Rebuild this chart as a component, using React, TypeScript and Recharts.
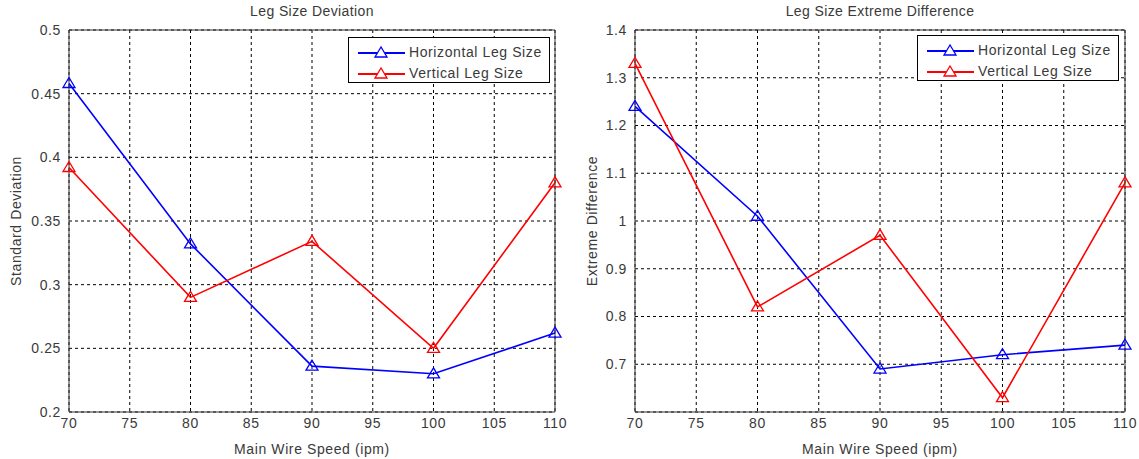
import { LineChart, Line, XAxis, YAxis, CartesianGrid, Legend, ReferenceArea } from 'recharts'

const speeds = [70, 80, 90, 100, 110]
const xTicks = [70, 75, 80, 85, 90, 95, 100, 105, 110]

const devHorizontal = [0.458, 0.332, 0.236, 0.23, 0.262]
const devVertical = [0.392, 0.29, 0.334, 0.25, 0.38]
const devTicks = [0.2, 0.25, 0.3, 0.35, 0.4, 0.45, 0.5]

const extHorizontal = [1.24, 1.01, 0.69, 0.72, 0.74]
const extVertical = [1.33, 0.82, 0.97, 0.63, 1.08]
const extTicks = [0.7, 0.8, 0.9, 1.0, 1.1, 1.2, 1.3, 1.4]

const BLUE = '#0000FF'
const RED = '#FF0000'
const FONT = 'Arial, "Liberation Sans", sans-serif'
const TXT = '#3a3a3a'
const txt = { fill: TXT, fontSize: 14, fontFamily: FONT, letterSpacing: 0.6 }

const devData = speeds.map((s, i) => ({ speed: s, h: devHorizontal[i], v: devVertical[i] }))
const extData = speeds.map((s, i) => ({ speed: s, h: extHorizontal[i], v: extVertical[i] }))

const Tri = (color: string) => (p: any) => {
  const { cx, cy, index } = p
  if (cx == null || cy == null) return <g key={index} />
  return (
    <polygon key={index} points={`${cx},${cy - 6} ${cx - 6},${cy + 4} ${cx + 6},${cy + 4}`}
      fill="none" stroke={color} strokeWidth={1.3} />
  )
}

const LegendBox = ({ payload }: any) => (
  <div style={{ border: '1px solid #000', background: '#fff', padding: '3px 0 1px 0', fontFamily: FONT, fontSize: 14, letterSpacing: 0.6, color: TXT, boxSizing: 'border-box', height: 46 }}>
    {(payload || []).map((e: any) => (
      <div key={e.value} style={{ display: 'flex', alignItems: 'center', height: 21 }}>
        <svg width={50} height={14} style={{ marginLeft: 8 }}>
          <line x1={1} y1={8} x2={48} y2={8} stroke={e.color} strokeWidth={1.8} />
          <polygon points="24,2 18,12 30,12" fill="#fff" stroke={e.color} strokeWidth={1.3} />
        </svg>
        <span style={{ marginLeft: 2 }}>{e.value}</span>
      </div>
    ))}
  </div>
)

function Panel({ data, title, yLabel, yTicks, yDomain, left, width, leftSpace, rightSpace, yLabelOffset, legendLeft, legendTop }: any) {
  return (
    <div style={{ position: 'absolute', left, top: 0, width, height: 459 }}>
      <div style={{ position: 'absolute', top: 3, left: leftSpace, width: width - leftSpace - rightSpace, textAlign: 'center', fontFamily: FONT, fontSize: 14, letterSpacing: 0.4, color: TXT }}>
        {title}
      </div>
      <LineChart width={width} height={459} data={data} margin={{ top: 30, right: rightSpace, left: 0, bottom: 0 }}>
        <CartesianGrid stroke="#000" strokeDasharray="3 3" strokeWidth={1} />
        <XAxis dataKey="speed" type="number" domain={[70, 110]} ticks={xTicks} height={47}
          axisLine={false} tickLine={false} tickSize={4} tickMargin={2}
          tick={txt}
          label={{ value: 'Main Wire Speed (ipm)', position: 'insideBottom', offset: 5, ...txt }} />
        <YAxis type="number" domain={yDomain} ticks={yTicks} width={leftSpace} interval={0}
          axisLine={false} tickLine={false} tickSize={6} tickMargin={2} allowDataOverflow
          tick={txt}
          label={{ value: yLabel, angle: -90, position: 'insideLeft', offset: yLabelOffset, ...txt, style: { textAnchor: 'middle' } }} />
        <ReferenceArea x1={70} x2={110} y1={yDomain[0]} y2={yDomain[1]} fill="none" stroke="#333" strokeWidth={1} />
        <Legend layout="vertical" align="center" verticalAlign="middle" content={LegendBox as any}
          wrapperStyle={{ top: legendTop, left: legendLeft, width: 202 }} />
        <Line dataKey="h" name="Horizontal Leg Size" stroke={BLUE} strokeWidth={1.6} dot={Tri(BLUE)} isAnimationActive={false} />
        <Line dataKey="v" name="Vertical Leg Size" stroke={RED} strokeWidth={1.6} dot={Tri(RED)} isAnimationActive={false} />
      </LineChart>
    </div>
  )
}

export default function App() {
  return (
    <div style={{ position: 'fixed', left: 0, top: 0, width: 1139, height: 459, background: '#fff' }}>
      <Panel data={devData} title="Leg Size Deviation" yLabel="Standard Deviation" yTicks={devTicks} yDomain={[0.2, 0.5]}
        left={0} width={570} leftSpace={69} rightSpace={15} yLabelOffset={16} legendLeft={348} legendTop={37} />
      <Panel data={extData} title="Leg Size Extreme Difference" yLabel="Extreme Difference" yTicks={extTicks} yDomain={[0.6, 1.4]}
        left={570} width={569} leftSpace={65} rightSpace={14} yLabelOffset={22} legendLeft={347} legendTop={35} />
    </div>
  )
}
